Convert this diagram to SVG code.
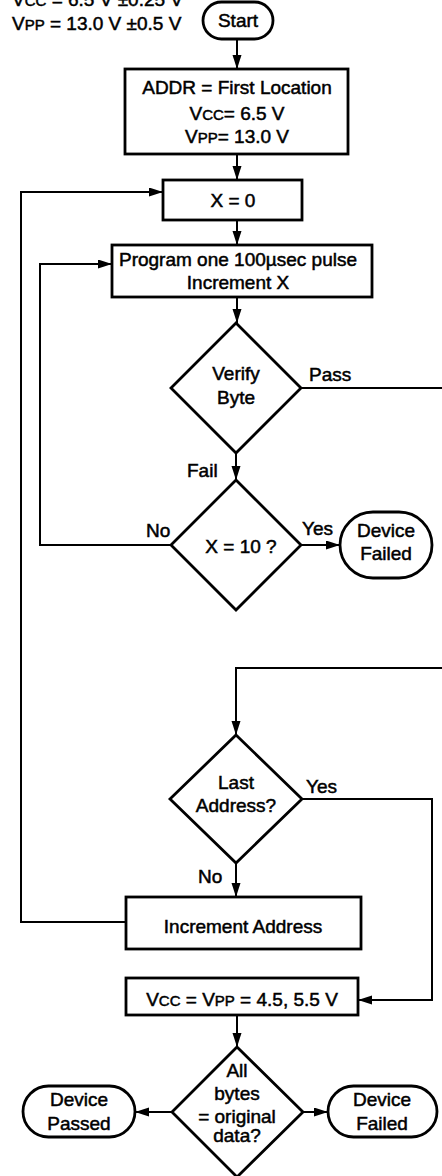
<svg xmlns="http://www.w3.org/2000/svg" width="442" height="1176" viewBox="0 0 442 1176">
<style>
text{font-family:"Liberation Sans",Arial,sans-serif;font-size:19px;fill:#000;stroke:#000;stroke-width:0.5;}
.m{text-anchor:middle;}
.s{font-size:15px;}
.box{fill:#fff;stroke:#000;stroke-width:2.8;}
.con{fill:none;stroke:#000;stroke-width:2;}
</style>
<defs>
<marker id="ah" markerUnits="userSpaceOnUse" markerWidth="15" markerHeight="10" refX="14" refY="4.5" orient="auto">
<path d="M0,0 L14,4.5 L0,9 z" fill="#000"/>
</marker>
</defs>
<rect width="442" height="1176" fill="#fff"/>
<g id="conditions">
<text x="12" y="6">V<tspan class="s">CC</tspan> = 6.5 V ±0.25 V</text>
<text x="12" y="30">V<tspan class="s">PP</tspan> = 13.0 V ±0.5 V</text>
</g>
<g id="connectors">
<path class="con" d="M237,39 V69" marker-end="url(#ah)"/>
<path class="con" d="M237,154 V180" marker-end="url(#ah)"/>
<path class="con" d="M237,220 V245" marker-end="url(#ah)"/>
<path class="con" d="M237,297 V323" marker-end="url(#ah)"/>
<path class="con" d="M236,453 V480" marker-end="url(#ah)"/>
<path class="con" d="M301,545 H340" marker-end="url(#ah)"/>
<path class="con" d="M171,545 H40 V264 H112" marker-end="url(#ah)"/>
<path class="con" d="M301,388 H442"/>
<path class="con" d="M442,668 H236 V735" marker-end="url(#ah)"/>
<path class="con" d="M302,799 H432 V1000 H358" marker-end="url(#ah)"/>
<path class="con" d="M236,863 V897" marker-end="url(#ah)"/>
<path class="con" d="M126,922 H21 V192 H163" marker-end="url(#ah)"/>
<path class="con" d="M237,1015 V1047" marker-end="url(#ah)"/>
<path class="con" d="M172,1112 H135" marker-end="url(#ah)"/>
<path class="con" d="M303,1112 H328" marker-end="url(#ah)"/>
<text x="309" y="381">Pass</text>
<text x="187" y="477">Fail</text>
<text x="146" y="537">No</text>
<text x="302" y="535">Yes</text>
<text x="306" y="793">Yes</text>
<text x="198" y="883">No</text>
</g>
<g id="start">
<rect class="box" x="203" y="2" width="70" height="37" rx="18.5"/>
<text class="m" x="238" y="27">Start</text>
</g>
<g id="init">
<rect class="box" x="125" y="69" width="223" height="85"/>
<text class="m" x="237" y="94">ADDR = First Location</text>
<text class="m" x="237" y="120">V<tspan class="s">CC</tspan>= 6.5 V</text>
<text class="m" x="237" y="143">V<tspan class="s">PP</tspan>= 13.0 V</text>
</g>
<g id="x0">
<rect class="box" x="163" y="180" width="139" height="40"/>
<text class="m" x="233" y="207">X = 0</text>
</g>
<g id="program">
<rect class="box" x="112" y="245" width="260" height="52"/>
<text class="m" x="238" y="266">Program one 100µsec pulse</text>
<text class="m" x="238" y="289">Increment X</text>
</g>
<g id="verify">
<path class="box" d="M236,323 L301,388 L236,453 L171,388 z"/>
<text class="m" x="236" y="380">Verify</text>
<text class="m" x="236" y="404">Byte</text>
</g>
<g id="x10">
<path class="box" d="M236,480 L301,545 L236,610 L171,545 z"/>
<text class="m" x="241" y="553">X = 10 ?</text>
</g>
<g id="failed1">
<rect class="box" x="340" y="512" width="92" height="66" rx="33"/>
<text class="m" x="386" y="537">Device</text>
<text class="m" x="386" y="560">Failed</text>
</g>
<g id="last">
<path class="box" d="M236,735 L302,799 L236,863 L170,799 z"/>
<text class="m" x="236" y="789">Last</text>
<text class="m" x="236" y="812">Address?</text>
</g>
<g id="incaddr">
<rect class="box" x="126" y="897" width="235" height="52"/>
<text class="m" x="243" y="933">Increment Address</text>
</g>
<g id="vccvpp">
<rect class="box" x="126" y="978" width="232" height="37"/>
<text class="m" x="242" y="1006">V<tspan class="s">CC</tspan> = V<tspan class="s">PP</tspan> = 4.5, 5.5 V</text>
</g>
<g id="allbytes">
<path class="box" d="M237,1047 L303,1112 L237,1177 L172,1112 z"/>
<text class="m" x="237" y="1077">All</text>
<text class="m" x="237" y="1100">bytes</text>
<text class="m" x="237" y="1123">= original</text>
<text class="m" x="237" y="1142">data?</text>
</g>
<g id="passed">
<rect class="box" x="23" y="1086" width="112" height="51" rx="25.5"/>
<text class="m" x="79" y="1106">Device</text>
<text class="m" x="79" y="1130">Passed</text>
</g>
<g id="failed2">
<rect class="box" x="328" y="1086" width="109" height="51" rx="25.5"/>
<text class="m" x="382" y="1106">Device</text>
<text class="m" x="382" y="1130">Failed</text>
</g>
</svg>
